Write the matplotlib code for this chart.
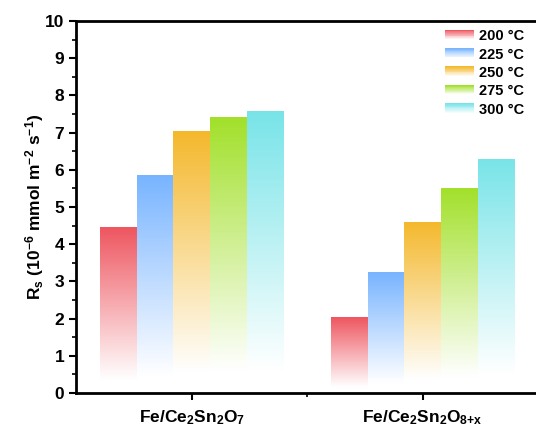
import numpy as np
import matplotlib
matplotlib.use("Agg")
import matplotlib.pyplot as plt
from matplotlib.colors import to_rgb
from matplotlib.legend_handler import HandlerBase
from matplotlib.patches import Rectangle

plt.rcParams['font.family'] = "Liberation Sans"
plt.rcParams['font.weight'] = "bold"
plt.rcParams['mathtext.fontset'] = 'custom'
plt.rcParams['mathtext.rm'] = 'Liberation Sans:bold'
plt.rcParams['mathtext.it'] = 'Liberation Sans:bold'
plt.rcParams['mathtext.bf'] = 'Liberation Sans:bold'
plt.rcParams['mathtext.default'] = 'rm'
plt.rcParams['axes.unicode_minus'] = False

# data
samples = ["Fe/Ce$_2$Sn$_2$O$_7$", "Fe/Ce$_2$Sn$_2$O$_{8{+}x}$"]
temps = ["200 °C", "225 °C", "250 °C", "275 °C", "300 °C"]
rs_200 = [4.45, 2.03]
rs_225 = [5.85, 3.25]
rs_250 = [7.03, 4.60]
rs_275 = [7.42, 5.52]
rs_300 = [7.57, 6.30]
series = [rs_200, rs_225, rs_250, rs_275, rs_300]
colors = ["#EE5660", "#78B4FF", "#F4B82C", "#A2E02A", "#78E4E8"]


def fade(color, n=256):
    # column image: white at bottom, full colour at top
    c = np.array(to_rgb(color))
    t = np.linspace(0, 1, n)
    t = np.clip((t - 0.08) / 0.92, 0, 1)
    img = 1 - t[:, None] * (1 - c[None, :])
    return img[:, None, :]


class GradHandler(HandlerBase):
    def create_artists(self, legend, orig, xdescent, ydescent, width, height, fontsize, trans):
        c = np.array(to_rgb(orig.get_facecolor()))
        out = []
        n = 12
        for k in range(n):
            t = 1 - k / (n - 1)
            col = 1 - t * (1 - c)
            r = Rectangle((-xdescent, -ydescent + height * (1 - (k + 1) / n)), width, height / n + 0.3,
                          facecolor=col, edgecolor="none", transform=trans)
            out.append(r)
        return out


fig = plt.figure(figsize=(5.36, 4.29), dpi=100)
ax = fig.add_axes([0.142, 0.084, 0.862, 0.867])

x = np.arange(len(samples))
w = 0.159
handles = []
for i, (vals, col) in enumerate(zip(series, colors)):
    pos = x + (i - 2) * w
    bars = ax.bar(pos, vals, width=w, color=col, edgecolor="none", label=temps[i])
    handles.append(bars[0])
    for b in bars:
        bx, by = b.get_x(), b.get_y()
        bw, bh = b.get_width(), b.get_height()
        im = ax.imshow(fade(col), extent=(bx, bx + bw, by, by + bh), origin="lower",
                       aspect="auto", interpolation="bilinear", zorder=2)
        im.set_clip_path(b)
        b.set_visible(False)

ax.set_xlim(-0.5, 1.5)
ax.set_ylim(0, 10)
ax.set_xticks(x)
ax.set_xticklabels(samples, fontsize=12.5, fontweight="bold")
ax.set_xticks([0.5], minor=True)
ax.set_yticks(np.arange(0, 11, 1))
ax.set_yticks(np.arange(0, 10.01, 0.5), minor=True)
ax.tick_params(axis="both", which="major", direction="out", length=5, width=1.5, labelsize=12.5)
ax.tick_params(axis="both", which="minor", direction="out", length=3, width=1.2)
ax.tick_params(axis="x", pad=6)
for s in ["left", "bottom", "top"]:
    ax.spines[s].set_linewidth(2)
ax.spines["right"].set_visible(False)

ax.set_ylabel("R$_s$ (10$^{-6}$ mmol m$^{-2}$ s$^{-1}$)", fontsize=12.5, fontweight="bold", labelpad=-1)

ax.legend(handles, temps, loc="upper right", bbox_to_anchor=(0.998, 1.013), frameon=False,
          fontsize=10.5, handlelength=2.05, handleheight=0.7, labelspacing=0.3, handletextpad=0.3,
          handler_map={h: GradHandler() for h in handles})

fig.savefig("out.png", dpi=100)
